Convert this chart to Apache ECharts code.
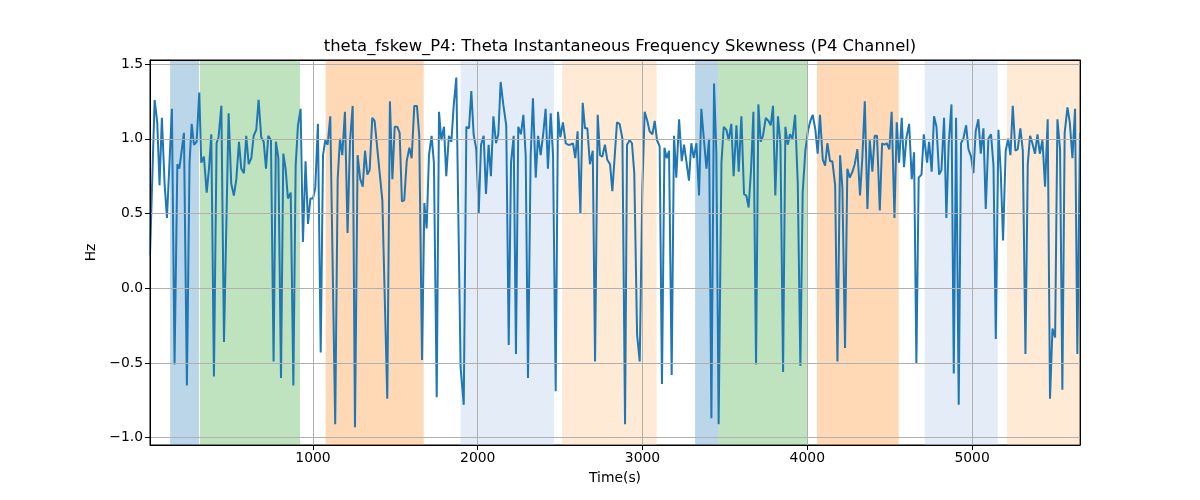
<!DOCTYPE html>
<html>
<head>
<meta charset="utf-8">
<script src="https://cdn.jsdelivr.net/npm/echarts@6/dist/echarts.min.js"></script>
<style>html,body{margin:0;padding:0;background:#fff}#c{width:1200px;height:500px}</style>
</head>
<body>
<div id="c"></div>
<script>
const times = [11,39,55,69,83,100,114,144,160,177,189,201,217,235,251,264,278,294,310,322,338,355,369,383,399,415,427,444,460,488,504,520,535,551,565,581,595,610,626,640,656,670,686,701,715,729,745,761,775,790,806,820,834,848,865,881,895,909,925,939,
955,970,984,1000,1014,1030,1047,1061,1075,1089,1105,1135,1150,1164,1178,1194,1210,1225,1241,1255,1271,1287,1302,1316,1330,1344,1360,1374,1421,1451,1467,1482,1496,1512,1526,1540,1554,1569,1585,1599,1615,1631,1645,1662,1676,1690,1704,1720,1734,1751,1765,1779,1795,1809,1825,1840,1854,1870,
1896,1915,1931,1947,1961,1975,1991,2006,2020,2036,2050,2066,2080,2095,2111,2125,2139,2155,2173,2188,2202,2218,2232,2246,2262,2277,2291,2305,2321,2335,2352,2366,2382,2398,2412,2426,2443,2457,2473,2487,2501,2517,2534,2548,2562,2578,2592,2606,2623,2637,2651,2665,2681,2698,2712,2728,2742,2756,2772,2786,2803,2817,
2845,2861,2878,2894,2906,2922,2936,2950,2967,2983,2999,3013,3029,3043,3060,3074,3088,3104,3118,3133,3147,3161,3177,3191,3205,3222,3238,3252,3266,3282,3296,3311,3327,3343,3357,3373,3388,3404,3418,3434,3448,3462,3479,3493,3509,3523,3539,3553,3570,3584,3600,3616,3630,3644,3659,3673,3689,3703,3717,3731,3748,3764,
3778,3792,3806,3822,3837,3853,3867,3881,3895,3910,3926,3942,3958,3972,3988,4005,4019,4033,4049,4063,4077,4094,4108,4122,4138,4152,4169,4183,4199,4213,4229,4243,4258,4274,4288,4304,4320,4334,4349,4365,4379,4395,4409,4423,4440,4454,4468,4482,4498,4512,4529,4543,4557,4573,4587,4602,4618,4634,4648,4662,4676,4693,4707,
4727,4739,4755,4769,4784,4800,4814,4830,4844,4858,4875,4889,4903,4919,4933,4947,4964,4978,4994,5008,5022,5038,5053,5069,5083,5099,5115,5130,5144,5160,5174,5188,5204,5219,5233,5247,5263,5277,5293,5308,5324,5338,5352,5366,5382,5397,5411,5427,5443,5459,5473,5488,5504,5518,5534,5548,5562,5579,5593,5609,5625,5639,5655];

const values = [0.22,1.26,1.11,0.69,1.14,0.69,0.47,1.20,-0.51,0.83,0.80,0.90,1.04,-0.65,0.84,1.10,0.96,0.98,1.31,0.84,0.88,0.64,0.80,1.03,-0.59,0.97,1.01,1.22,-0.36,1.17,0.70,0.62,0.73,0.98,0.80,0.77,1.02,0.83,0.87,1.02,1.06,1.26,1.01,0.98,0.80,1.02,0.99,-0.49,0.98,0.87,-0.60,0.90,0.80,0.60,0.64,-0.65,0.82,1.09,1.20,0.31,
0.85,0.43,0.60,0.60,0.67,1.10,-0.43,0.89,0.99,0.96,1.15,-0.91,0.73,1.00,0.89,1.18,0.37,0.99,1.22,-0.93,0.89,0.73,0.68,0.92,0.76,0.79,1.14,1.12,0.59,-0.74,1.25,0.73,1.08,1.08,1.04,0.58,0.59,0.85,0.94,0.87,1.22,1.22,1.02,-0.48,0.57,0.40,0.89,1.02,0.84,-0.73,1.18,0.99,1.08,0.75,1.02,0.98,1.22,1.41,
-0.53,-0.78,1.08,1.07,1.32,1.03,0.93,0.50,0.96,1.02,0.63,0.96,0.75,1.15,0.97,1.03,1.38,1.23,1.09,-0.38,0.84,1.02,-0.44,1.08,1.03,1.16,0.89,-0.60,0.88,1.27,0.74,1.02,0.89,1.04,1.20,0.80,1.17,0.89,-0.69,1.18,1.01,1.11,0.97,0.96,0.96,0.97,0.87,1.05,0.50,1.24,1.07,1.07,0.83,0.92,-0.49,1.16,0.89,0.88,0.96,0.86,0.83,0.65,
1.11,1.10,1.00,-0.91,0.96,0.99,0.97,0.77,-0.31,-0.49,0.67,1.18,1.12,1.05,1.03,1.12,0.99,0.95,-0.64,0.94,0.87,0.92,-0.58,1.02,0.74,1.13,0.85,0.96,0.85,0.72,0.97,0.87,0.97,0.62,1.20,0.99,0.80,1.00,-0.87,1.37,0.91,-0.91,0.84,1.08,1.06,0.99,1.10,0.75,1.09,0.78,1.15,0.63,0.62,0.54,0.80,1.18,-0.51,1.23,0.98,1.02,1.14,1.12,
1.09,1.22,0.62,1.15,0.97,-0.56,1.08,0.96,1.03,1.00,1.16,0.71,-0.52,0.64,0.92,1.06,1.12,1.16,1.06,0.90,1.16,0.86,0.82,0.97,0.85,0.85,0.69,-0.49,0.89,0.67,-0.40,0.80,0.74,0.78,0.83,0.93,0.62,0.87,1.25,0.53,0.99,0.78,1.02,1.02,0.52,0.97,0.96,0.97,0.93,1.18,0.47,1.11,0.84,1.14,0.81,1.01,1.10,0.73,0.91,-0.50,0.74,0.76,1.03,
0.84,0.98,0.78,1.15,1.08,0.76,0.79,1.14,0.47,0.96,1.23,-0.57,1.14,-0.78,0.97,1.00,1.09,0.93,0.88,0.77,1.05,1.13,0.90,1.07,0.53,1.00,1.03,0.82,-0.34,1.06,0.78,0.32,0.92,1.00,0.89,1.22,0.92,0.93,1.07,0.92,-0.44,0.83,1.02,0.97,0.90,1.03,0.90,0.99,0.68,1.13,-0.74,-0.27,-0.33,1.13,0.93,-0.68,1.04,1.21,1.11,0.87,1.20,-0.44,1.04];

const bandStarts = [133, 314, 1077, 1896, 2512, 3319, 3460, 4059, 4713, 5212];
const bandEnds   = [308, 921, 1672, 2463, 3086, 3460, 4000, 4555, 5156, 5655];
const bandKinds  = ['blue', 'green', 'orange', 'lightblue', 'lightorange', 'blue', 'green', 'orange', 'lightblue', 'lightorange'];

const xTicks = [1000, 2000, 3000, 4000, 5000];
const yTicks = [-1.0, -0.5, 0.0, 0.5, 1.0, 1.5];
const xMin = 11, xMax = 5655;
const yMin = -1.049, yMax = 1.527;

const bandColors = {
  blue: 'rgba(31,119,180,0.3)',
  green: 'rgba(44,160,44,0.3)',
  orange: 'rgba(255,127,14,0.3)',
  lightblue: 'rgba(174,199,232,0.33)',
  lightorange: 'rgba(255,187,120,0.3)'
};

const FONT = 'DejaVu Sans';
const data = times.map((t, i) => [t, values[i]]);
const fmtY = v => (v < 0 ? '\u2212' : '') + Math.abs(v).toFixed(1);
const spine = {show: true, onZero: false, lineStyle: {color: '#000', width: 1}};

const chart = echarts.init(document.getElementById('c'), null, {renderer: 'canvas'});
chart.setOption({
  animation: false,
  backgroundColor: '#fff',
  title: {
    text: 'theta_fskew_P4: Theta Instantaneous Frequency Skewness (P4 Channel)',
    left: 615, top: 34, textAlign: 'center',
    textStyle: {fontFamily: FONT, fontSize: 16.4, fontWeight: 'normal', color: '#000'}
  },
  grid: {left: 150, right: 120, top: 60, bottom: 55, show: true, borderColor: '#000', borderWidth: 1, backgroundColor: 'transparent'},
  xAxis: [{
    type: 'value', min: xMin, max: xMax, z: 10,
    name: 'Time(s)', nameLocation: 'middle', nameGap: 26,
    nameTextStyle: {fontFamily: FONT, fontSize: 13.9, color: '#000'},
    axisLine: spine,
    axisTick: {show: true, length: 5, lineStyle: {color: '#000'}, customValues: xTicks},
    axisLabel: {fontFamily: FONT, fontSize: 13.9, color: '#000', margin: 6, customValues: xTicks, formatter: v => String(v)},
    splitLine: {show: false}
  }, {
    type: 'value', min: xMin, max: xMax, position: 'top', z: 10,
    axisLine: spine,
    axisTick: {show: false}, axisLabel: {show: false}, splitLine: {show: false}
  }],
  yAxis: [{
    type: 'value', min: yMin, max: yMax, z: 10,
    name: 'Hz', nameLocation: 'middle', nameGap: 48, nameRotate: 90,
    nameTextStyle: {fontFamily: FONT, fontSize: 13.9, color: '#000'},
    axisLine: spine,
    axisTick: {show: true, length: 5, lineStyle: {color: '#000'}, customValues: yTicks},
    axisLabel: {fontFamily: FONT, fontSize: 13.9, color: '#000', margin: 7, customValues: yTicks, formatter: fmtY},
    splitLine: {show: false}
  }, {
    type: 'value', min: yMin, max: yMax, position: 'right', z: 10,
    axisLine: spine,
    axisTick: {show: false}, axisLabel: {show: false}, splitLine: {show: false}
  }],
  series: [{
    type: 'line', data: [], z: 1, silent: true,
    markArea: {
      silent: true,
      data: bandStarts.map((s, i) => [
        {xAxis: s, itemStyle: {color: bandColors[bandKinds[i]]}},
        {xAxis: bandEnds[i]}
      ])
    }
  }, {
    type: 'line', data: [], z: 2, silent: true,
    markLine: {
      silent: true, symbol: ['none', 'none'], label: {show: false},
      lineStyle: {color: '#b0b0b0', width: 1, type: 'solid'},
      data: xTicks.map(v => ({xAxis: v})).concat(yTicks.map(v => ({yAxis: v})))
    }
  }, {
    type: 'line', data: data, z: 3, showSymbol: false, symbol: 'none',
    lineStyle: {color: '#1f77b4', width: 2},
    itemStyle: {color: '#1f77b4'}
  }, {
    type: 'line', data: [], xAxisIndex: 1, yAxisIndex: 1, silent: true
  }]
});
</script>
</body>
</html>
